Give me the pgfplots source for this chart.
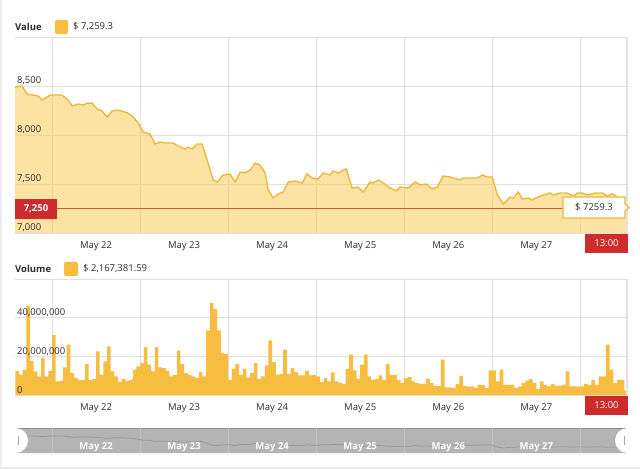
\documentclass[border=0pt]{standalone}
\usepackage{fontspec}
\setmainfont{Open Sans}
\usepackage{pgfplots}
\pgfplotsset{compat=1.18}
\usepackage{pgfplotstable}

\definecolor{gold}{RGB}{238,184,58}
\definecolor{goldfill}{RGB}{250,205,90}
\definecolor{barc}{RGB}{246,189,65}
\definecolor{gridc}{RGB}{224,224,226}
\definecolor{redbox}{RGB}{206,44,44}
\definecolor{refline}{RGB}{198,92,52}
\definecolor{txt}{RGB}{45,45,45}
\definecolor{sbfill}{RGB}{180,180,180}
\definecolor{sbgrid}{RGB}{196,196,196}
\definecolor{edgec}{RGB}{234,222,224}

\pgfplotstableread{
h v
-10.1 8485
-9.8 8490
-8.2 8500
-6.8 8418
-5.2 8408
-3.8 8397
-2.7 8357
-1.4 8387
-0.5 8408
2.7 8408
4.4 8357
5.5 8296
7.1 8316
8.5 8306
9.8 8326
10.9 8326
12.3 8265
13.6 8245
15.0 8183
16.4 8245
18.0 8255
20.7 8224
22.1 8183
23.5 8122
24.8 8030
26.7 8010
28.1 7908
29.5 7928
31.4 7918
33.0 7918
34.4 7887
36.3 7857
37.1 7877
38.2 7857
39.5 7908
40.9 7908
41.7 7816
43.9 7541
45.0 7520
46.6 7592
48.5 7602
49.9 7520
51.3 7622
52.6 7612
54.0 7643
55.4 7714
56.7 7694
58.1 7612
58.9 7439
60.3 7357
61.6 7398
63.0 7418
64.4 7520
66.3 7530
68.2 7510
69.5 7602
70.9 7561
72.5 7551
73.9 7612
75.8 7592
76.6 7633
78.0 7612
79.4 7643
80.2 7653
81.8 7459
83.4 7469
84.8 7418
86.7 7520
87.5 7510
88.9 7541
90.3 7510
92.2 7459
93.8 7428
94.9 7469
97.1 7459
99.0 7520
100.4 7490
102.0 7500
103.6 7449
105.0 7469
106.6 7581
108.5 7571
111.3 7541
112.1 7561
115.9 7561
117.3 7592
118.6 7571
120.0 7571
121.4 7388
123.0 7296
124.9 7367
125.7 7357
127.1 7418
128.2 7347
129.8 7357
130.9 7337
133.1 7377
135.8 7408
136.6 7388
138.5 7408
140.4 7408
142.1 7377
143.2 7408
144.5 7408
145.9 7388
148.1 7408
150.0 7408
151.4 7377
152.7 7400
154.4 7360
157.0 7259.3
}\valuedata

\pgfplotstableread{
h vol
-10 12.5
-9 10.4
-8 13.1
-7 46.1
-6 17.7
-5 12.2
-4 9.6
-3 19.1
-2 9.6
-1 12.5
0 31.0
1 7.0
2 7.3
3 14.3
4 26.1
5 11.3
6 8.7
7 7.8
8 7.8
9 16.0
10 7.8
11 8.4
12 22.6
13 10.4
14 17.4
15 25.2
16 12.2
17 9.6
18 6.6
19 8.4
20 7.3
21 7.8
22 13.1
23 14.8
24 16.5
25 24.7
26 15.7
27 12.2
28 24.7
29 14.3
30 13.9
31 12.5
32 9.6
33 10.4
34 23.0
35 16.0
36 11.3
37 10.4
38 9.6
39 8.7
40 11.8
41 9.6
42 33.4
43 47.5
44 44.4
45 33.4
46 21.7
47 21.2
48 7.8
49 13.6
50 16.0
51 10.4
52 13.6
53 9.1
54 11.3
55 16.5
56 8.4
57 9.6
58 15.3
59 28.2
60 17.0
61 10.4
62 10.8
63 23.5
64 10.8
65 13.9
66 11.8
67 10.1
68 10.1
69 12.5
70 10.1
71 10.4
72 9.6
73 6.6
74 8.7
75 7.0
76 11.7
77 7.0
78 6.4
79 5.7
80 13.4
81 20.9
82 12.7
83 8.2
84 15.7
85 20.9
86 9.6
87 7.8
88 8.2
89 10.1
90 7.8
91 16.0
92 10.4
93 10.4
94 7.8
95 6.1
96 8.7
97 9.2
98 7.0
99 6.1
100 5.7
101 5.7
102 8.4
103 6.1
104 4.7
105 4.7
106 18.3
107 4.0
108 4.0
109 3.5
110 5.7
111 9.9
112 4.7
113 4.4
114 4.4
115 3.5
116 5.2
117 5.2
118 3.5
119 12.7
120 12.7
121 7.0
122 13.1
123 5.2
124 5.2
125 5.2
126 3.5
127 4.4
128 6.1
129 7.5
130 8.2
131 6.1
132 3.0
133 7.0
134 5.2
135 4.4
136 5.7
137 4.7
138 4.7
139 5.2
140 12.2
141 4.4
142 4.4
143 4.4
144 4.4
145 5.7
146 5.2
147 7.8
148 5.2
149 9.6
150 9.6
151 26.1
152 13.1
153 6.1
154 7.8
155 7.8
156 2.2
}\voldata

\pgfplotsset{
  panel/.style={
    scale only axis, width=613pt, xmin=-10.1, xmax=157,
    anchor=south west,
    axis line style={draw=none}, tick style={draw=none},
    grid style={gridc, line width=0.8pt},
    xtick={12,36,60,84,108,132},
    xticklabels={May 22,May 23,May 24,May 25,May 26,May 27},
    minor xtick={0,24,48,72,96,120,144}, xminorgrids,
    every tick label/.append style={font=\fontsize{9.5}{11}\selectfont, text=txt},
  },
}
\tikzset{
  ylab/.style={anchor=base west, inner sep=2pt, yshift=2pt, font=\fontsize{9.5}{11}\selectfont, text=txt},
  sblab/.style={anchor=base, inner sep=0pt, text=white, font=\fontsize{9.5}{11}\selectfont\bfseries},
}

\begin{document}
\begin{tikzpicture}[x=1pt,y=1pt]
\useasboundingbox (0,0) rectangle (640,469);
\fill[white] (0,0) rectangle (640,469);
\fill[black!8] (0,0) rectangle (640,2.5);
\fill[black!8] (0,0) rectangle (1.5,469);

% headers
\node[anchor=west, inner sep=0, font=\fontsize{9.5}{11}\selectfont\bfseries, text=txt] at (15,442) {Value};
\fill[barc, rounded corners=1.5pt] (55,435) rectangle (68,449);
\node[anchor=west, inner sep=0, font=\fontsize{9.5}{11}\selectfont, text=txt] at (73,442) {\$ 7,259.3};
\node[anchor=west, inner sep=0, font=\fontsize{9.5}{11}\selectfont\bfseries, text=txt] at (15,200) {Volume};
\fill[barc, rounded corners=1.5pt] (64,193) rectangle (78,207);
\node[anchor=west, inner sep=0, font=\fontsize{9.5}{11}\selectfont, text=txt] at (83,200) {\$ 2,167,381.59};

% value panel
\begin{axis}[panel, at={(15pt,236pt)}, height=196pt, ymin=7000, ymax=9000,
  ytick={7000,7500,8000,8500,9000}, yticklabels={},
  ymajorgrids,
  xticklabel style={yshift=-5pt},
]
\addplot[draw=none, fill=goldfill, fill opacity=0.55] table[x=h,y=v]{\valuedata} \closedcycle;
\addplot[gold, line width=1.4pt] table[x=h,y=v]{\valuedata};
\addplot[refline, line width=0.9pt] coordinates {(-10.1,7250) (157,7250)};
\node[ylab] at (axis cs:-10.1,7000) {7,000};
\node[ylab] at (axis cs:-10.1,7500) {7,500};
\node[ylab] at (axis cs:-10.1,8000) {8,000};
\node[ylab] at (axis cs:-10.1,8500) {8,500};
\end{axis}
\draw[edgec, line width=2pt] (627,236) -- (627,432);

% volume panel
\begin{axis}[panel, at={(15pt,74pt)}, height=116pt, ymin=0, ymax=60,
  ytick={0,20,40,60}, yticklabels={},
  ymajorgrids,
  xticklabel style={yshift=-5pt},
]
\addplot[ybar, bar width=1, bar shift=0, fill=barc, draw=none] table[x expr=\thisrow{h}+0.5, y=vol]{\voldata};
\node[ylab] at (axis cs:-10.1,0) {0};
\node[ylab] at (axis cs:-10.1,20) {20,000,000};
\node[ylab] at (axis cs:-10.1,40) {40,000,000};
\end{axis}
\draw[edgec, line width=2pt] (627,74) -- (627,190);

% tooltip and labels
\fill[redbox] (15,250) rectangle (57,270);
\node[text=white, font=\fontsize{9.5}{11}\selectfont\bfseries] at (36,260) {7,250};
\draw[gold, line width=1.3pt, fill=white] (563,251) -- (625,251) -- (625,258) -- (629,261.5) -- (625,265) -- (625,272) -- (563,272) -- cycle;
\node[text=txt, font=\fontsize{9.5}{11}\selectfont] at (594,261.5) {\$ 7259.3};
\fill[redbox] (585,216) rectangle (628,235);
\node[text=white, font=\fontsize{9.5}{11}\selectfont] at (606.5,225.5) {13:00};
\fill[redbox] (585,54) rectangle (628,73);
\node[text=white, font=\fontsize{9.5}{11}\selectfont] at (606.5,63.5) {13:00};

% scrollbar
\fill[sbfill, rounded corners=3pt] (15,16) rectangle (628,41);
\draw[black!45, line width=1pt] (16,40.5) -- (627,40.5);
\begin{axis}[panel, at={(15pt,16pt)}, height=25pt, ymin=6840, ymax=9150,
  ytick=\empty, xticklabels={}, minor grid style={sbgrid, line width=0.6pt},
]
\addplot[black!40, line width=0.7pt] table[x=h,y=v]{\valuedata};
\node[sblab] at (axis cs:12,7150) {May 22};
\node[sblab] at (axis cs:36,7150) {May 23};
\node[sblab] at (axis cs:60,7150) {May 24};
\node[sblab] at (axis cs:84,7150) {May 25};
\node[sblab] at (axis cs:108,7150) {May 26};
\node[sblab] at (axis cs:132,7150) {May 27};
\end{axis}
\begin{scope}
\clip (15,16) rectangle (628,41);
\fill[white] (15.5,28.5) circle (12.5);
\fill[white] (627.5,28.5) circle (12.5);
\end{scope}
\draw[black!35, line width=0.8pt] (18,24) -- (18,33);
\draw[black!35, line width=0.8pt] (624,24) -- (624,33);
\end{tikzpicture}
\end{document}
